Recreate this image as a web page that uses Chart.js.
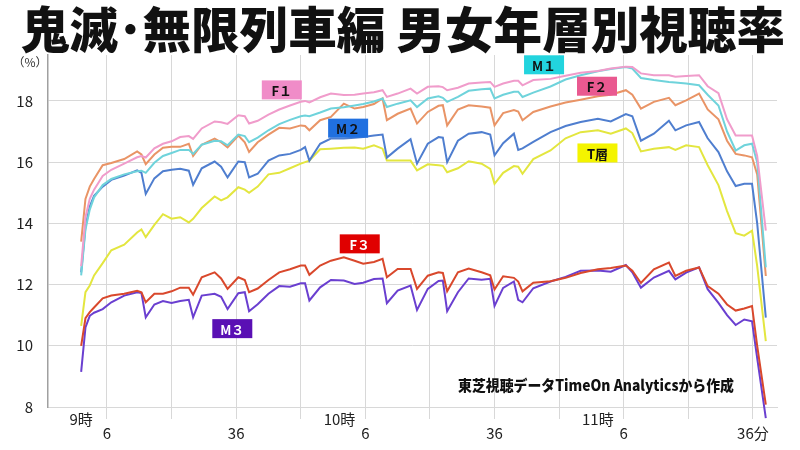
<!DOCTYPE html>
<html lang="ja">
<head>
<meta charset="utf-8">
<script src="https://cdn.jsdelivr.net/npm/chart.js@4.4.0/dist/chart.umd.min.js"></script>
<style>
  html, body { margin: 0; padding: 0; background: #fff; }
  #wrap { width: 800px; height: 450px; }
</style>
</head>
<body>
<div id="wrap"><canvas id="chart" width="800" height="450"></canvas></div>
<script>
// 9時からの経過分
const minutes = [0,1,2,3,5,7,10,13,14,15,17,19,21,23,25,26,28,31,32.5,34,36.5,38,39,41,43.5,46,48.5,51,52,53,55.5,58,61,63.5,65.5,68,70,71,73.5,76.5,78,80.5,83,84,85,87.5,90,93,95,96,98,100.5,101.5,102.5,105,109,112.5,116,120,123,126.5,128,130,133,136.5,138,140.5,143.5,145.5,148,150,152,154,155.8,157,159];

const seriesNames = ['F1', 'M1', 'F2', 'M2', 'T層', 'F3', 'M3'];

const f1 = [12.6,14.2,14.8,15.1,15.55,15.75,15.95,16.16,16.2,16.15,
  16.45,16.6,16.68,16.82,16.85,16.76,17.1,17.33,17.3,17.25,
  17.53,17.5,17.26,17.35,17.55,17.72,17.85,17.97,18.0,17.95,
  18.12,18.24,18.19,18.2,18.24,18.28,18.35,18.13,18.24,18.4,
  18.24,18.46,18.48,18.45,18.35,18.43,18.57,18.6,18.62,18.46,
  18.57,18.66,18.66,18.51,18.68,18.72,18.82,18.92,18.98,19.06,
  19.12,19.11,18.9,18.84,18.84,18.79,18.81,18.84,18.48,18.25,
  17.4,16.87,16.87,16.87,16.2,13.76];

const m1 = [12.3,13.8,14.45,14.85,15.25,15.45,15.6,15.7,15.72,15.65,
  15.98,16.2,16.3,16.4,16.4,16.27,16.57,16.7,16.68,16.55,
  16.9,16.85,16.65,16.8,17.04,17.24,17.38,17.5,17.52,17.5,
  17.62,17.75,17.79,17.85,17.9,17.98,18.08,17.8,17.91,18.02,
  17.8,18.08,18.15,18.1,17.97,18.13,18.33,18.38,18.4,18.08,
  18.2,18.3,18.3,18.13,18.27,18.47,18.7,18.84,18.97,19.04,
  19.11,19.06,18.75,18.68,18.62,18.6,18.57,18.51,18.2,17.85,
  17.0,16.38,16.55,16.6,16.0,12.56];

const f2 = [13.4,14.8,15.2,15.45,15.9,15.97,16.1,16.35,16.25,15.93,
  16.25,16.47,16.5,16.5,16.6,16.2,16.57,16.77,16.65,16.48,
  16.87,16.65,16.33,16.65,16.9,17.12,17.1,17.2,17.18,17.04,
  17.37,17.48,17.91,17.75,17.8,17.9,18.08,17.37,17.58,17.75,
  17.26,17.64,17.84,17.86,17.2,17.72,17.86,17.82,17.78,17.2,
  17.6,17.7,17.65,17.37,17.64,17.82,17.95,18.04,18.15,18.2,
  18.35,18.2,17.75,17.97,18.1,17.86,18.02,18.24,17.72,17.4,
  16.7,16.27,16.22,16.16,15.6,12.28];

const m2 = [12.4,13.9,14.55,14.9,15.2,15.42,15.56,15.73,15.65,14.96,
  15.47,15.7,15.75,15.78,15.72,15.26,15.8,16.02,15.85,15.5,
  16.02,16.0,15.5,15.62,16.05,16.22,16.27,16.4,16.49,16.05,
  16.6,16.77,16.77,16.8,16.82,16.87,16.9,16.15,16.44,16.75,
  15.95,16.6,16.82,16.8,16.0,16.7,16.93,16.98,16.9,16.22,
  16.62,16.93,16.4,16.45,16.66,16.98,17.18,17.31,17.42,17.33,
  17.57,17.5,16.7,16.93,17.35,17.04,17.2,17.31,16.78,16.33,
  15.7,15.22,15.29,15.29,14.0,10.92];

const teen = [10.65,11.75,11.97,12.3,12.7,13.12,13.3,13.7,13.8,13.55,
  13.95,14.3,14.15,14.2,14.03,14.15,14.5,14.88,14.75,14.85,
  15.18,15.1,15.0,15.2,15.6,15.65,15.8,15.95,16.0,16.05,
  16.42,16.44,16.47,16.48,16.44,16.55,16.44,16.05,16.05,16.05,
  15.73,15.93,15.9,15.88,15.67,15.8,16.03,15.95,15.78,15.29,
  15.65,15.87,15.85,15.62,16.1,16.38,16.78,16.98,17.04,16.93,
  17.1,16.95,16.35,16.44,16.49,16.4,16.55,16.49,15.9,15.25,
  14.4,13.68,13.6,13.76,12.6,10.15];

const f3 = [10.0,10.9,11.1,11.25,11.55,11.64,11.7,11.8,11.75,11.42,
  11.7,11.7,11.78,11.9,11.9,11.67,12.24,12.4,12.2,11.86,
  12.24,12.15,11.75,11.87,12.15,12.4,12.5,12.62,12.62,12.32,
  12.62,12.78,12.89,12.78,12.68,12.74,12.84,12.24,12.51,12.51,
  11.86,12.29,12.4,12.38,11.78,12.4,12.52,12.4,12.3,11.84,
  12.27,12.22,12.1,11.78,12.06,12.11,12.22,12.38,12.5,12.54,
  12.62,12.45,12.05,12.5,12.72,12.28,12.45,12.56,11.95,11.7,
  11.35,11.15,11.22,11.3,10.0,8.08];

const m3 = [9.15,10.6,10.98,11.08,11.2,11.42,11.64,11.75,11.72,10.93,
  11.35,11.46,11.4,11.46,11.5,10.93,11.64,11.7,11.6,11.2,
  11.72,11.75,11.13,11.36,11.7,11.95,11.93,12.04,12.04,11.48,
  11.91,12.15,12.13,12.02,12.06,12.18,12.2,11.39,11.8,11.97,
  11.17,11.86,12.12,12.13,11.13,11.75,12.2,12.16,12.19,11.3,
  11.89,12.1,11.5,11.42,11.88,12.1,12.25,12.45,12.46,12.42,
  12.64,12.4,11.9,12.23,12.45,12.17,12.39,12.56,11.85,11.4,
  11.0,10.68,10.86,10.8,9.6,7.64];

// 目盛り
const yTicks = [8, 10, 12, 14, 16, 18];
const hourTicks = [0, 60, 120];
const hourLabels = ['9時', '10時', '11時'];
const gridTicks = [6, 21, 36, 51, 66, 81, 96, 111, 126, 141, 156];
const minuteTicks = [6, 36, 66, 96, 126, 156];
const minuteLabels = ['6', '36', '6', '36', '6', '36分'];

const lineColors = ['#f09ccb', '#6fd3db', '#e99466', '#4f7ecf', '#e3e63f', '#d9482c', '#6a3fd0'];
const allSeries = [f1, m1, f2, m2, teen, f3, m3];

// 系列名ラベル（データ座標で配置）
const tagTexts = ['F１', 'M１', 'F２', 'M２', 'T層', 'F３', 'M３'];
const tagAt = [[46.6, 18.36], [107.5, 19.18], [119.8, 18.48], [62, 17.11], [119.9, 16.3], [64.7, 13.33], [35.1, 10.56]];
const tagFill = ['#f08cc8', '#22d4de', '#e95990', '#2070e0', '#f4f400', '#e00000', '#5a10b4'];
const tagInk = ['#111', '#111', '#111', '#111', '#111', '#fff', '#fff'];

const JP = '"Noto Sans CJK JP", "Noto Sans", sans-serif';
Chart.defaults.font.family = JP;

const overlay = {
  id: 'overlay',
  afterDraw(chart) {
    const ctx = chart.ctx;
    const xs = chart.scales.x, ys = chart.scales.y;
    ctx.save();
    // タイトル
    ctx.fillStyle = '#111';
    ctx.font = '900 49px ' + JP;
    ctx.textAlign = 'center';
    ctx.textBaseline = 'middle';
    ctx.fillText('鬼滅･無限列車編 男女年層別視聴率', 403, 29, 764);
    // 単位
    ctx.font = '12px ' + JP;
    ctx.fillStyle = '#333';
    ctx.fillText('（%）', 30, 62);
    // 系列ラベル
    ctx.font = 'bold 13px ' + JP;
    tagTexts.forEach((t, i) => {
      const cx = xs.getPixelForValue(tagAt[i][0]);
      const cy = ys.getPixelForValue(tagAt[i][1]);
      ctx.fillStyle = tagFill[i];
      ctx.fillRect(cx - 20, cy - 9.5, 40, 19);
      ctx.fillStyle = tagInk[i];
      ctx.fillText(t, cx, cy + 1);
    });
    // 出典
    ctx.fillStyle = '#111';
    ctx.font = '900 15px ' + JP;
    ctx.textAlign = 'left';
    ctx.fillText('東芝視聴データTimeOn Analyticsから作成', 458, 385, 276);
    ctx.restore();
  }
};

const xTickValues = hourTicks.concat(gridTicks).sort((a, b) => a - b);

function xLabel(v) {
  const h = hourTicks.indexOf(v);
  if (h >= 0) return [hourLabels[h], ''];
  const m = minuteTicks.indexOf(v);
  if (m >= 0) return ['', minuteLabels[m]];
  return '';
}

new Chart(document.getElementById('chart'), {
  type: 'line',
  data: {
    datasets: allSeries.map((s, i) => ({
      label: seriesNames[i],
      data: s.map((v, j) => ({ x: minutes[j], y: v })),
      borderColor: lineColors[i],
      borderWidth: 2,
      pointRadius: 0,
      tension: 0,
      clip: false
    }))
  },
  options: {
    responsive: false,
    animation: false,
    layout: { padding: { top: 55, right: 23, left: 0, bottom: 0 } },
    plugins: { legend: { display: false }, tooltip: { enabled: false } },
    scales: {
      x: {
        type: 'linear',
        min: -7.7,
        max: 161.6,
        afterBuildTicks: s => { s.ticks = xTickValues.map(v => ({ value: v })); },
        afterFit: s => { s.height = 43; },
        ticks: {
          autoSkip: false,
          maxRotation: 0,
          padding: -7,
          color: '#222',
          font: { size: 15, lineHeight: 0.95 },
          callback: v => xLabel(v)
        },
        grid: {
          color: c => (c.tick && gridTicks.includes(c.tick.value)) ? '#d8d8d8' : 'rgba(0,0,0,0)',
          tickLength: 12
        },
        border: { color: '#d8d8d8' }
      },
      y: {
        min: 8,
        max: 19.5,
        afterBuildTicks: s => { s.ticks = yTicks.map(v => ({ value: v })); },
        afterFit: s => { s.width = 48; },
        ticks: { padding: 15, color: '#222', font: { size: 15 } },
        grid: { color: '#d8d8d8', drawTicks: false },
        border: { color: '#a0a0a0', width: 1.5 }
      }
    }
  },
  plugins: [overlay]
});
</script>
</body>
</html>
